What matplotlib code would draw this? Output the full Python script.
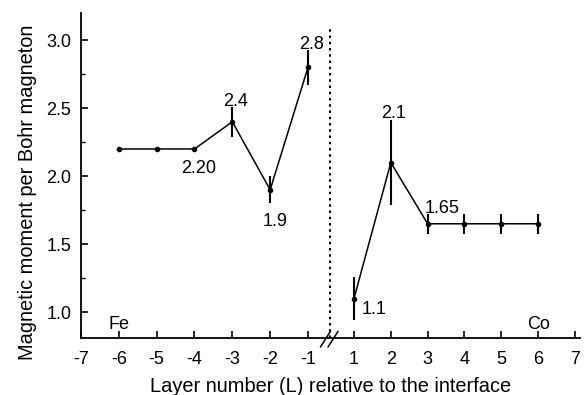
import matplotlib
matplotlib.use('Agg')
import matplotlib.pyplot as plt
from matplotlib.ticker import MultipleLocator
from matplotlib.transforms import blended_transform_factory

plt.rcParams['font.family'] = ['Liberation Sans', 'DejaVu Sans']

# ---- data ----
fe_layers = [-6, -5, -4, -3, -2, -1]
fe_moment = [2.2, 2.2, 2.2, 2.4, 1.9, 2.8]
fe_err = [0.0, 0.0, 0.0, 0.11, 0.10, 0.13]

co_layers = [1, 2, 3, 4, 5, 6]
co_moment = [1.1, 2.1, 1.65, 1.65, 1.65, 1.65]
co_err = [0.16, 0.31, 0.075, 0.075, 0.075, 0.075]

x_tick_layers = [-7, -6, -5, -4, -3, -2, -1, 1, 2, 3, 4, 5, 6, 7]
y_ticks = [1.0, 1.5, 2.0, 2.5, 3.0]

# (layer, y, text, dx in layer units, ha)
labels = [
    (-4, 2.06, "2.20", 0.12, 'center'),
    (-3, 2.55, "2.4", 0.08, 'center'),
    (-2, 1.67, "1.9", 0.12, 'center'),
    (-1, 2.97, "2.8", 0.10, 'center'),
    (2, 2.46, "2.1", 0.08, 'center'),
    (3, 1.765, "1.65", -0.08, 'left'),
    (1, 1.02, "1.1", 0.2, 'left'),
    (-6, 0.91, "Fe", 0.0, 'center'),
    (6, 0.91, "Co", 0.0, 'center'),
]

# broken axis: positive layers mapped with a gap after -1
POS_OFFSET = 0.216
POS_STEP = 0.9736


def xpos(L):
    return L if L < 0 else POS_OFFSET + (L - 1) * POS_STEP


BREAK_X = -0.418

fig = plt.figure(figsize=(5.85, 3.95), dpi=100)
ax = fig.add_axes([81 / 585, 57 / 395, 499 / 585, 325 / 395])

ax.set_xlim(-7, 6.19)
ax.set_ylim(0.81, 3.2)

fs = 13
lw = 1.1

ax.plot([xpos(v) for v in fe_layers], fe_moment, color='black', lw=lw,
        marker='o', ms=3, zorder=3)
ax.plot([xpos(v) for v in co_layers], co_moment, color='black', lw=lw,
        marker='o', ms=3, zorder=3)
ax.errorbar([xpos(v) for v in fe_layers], fe_moment, yerr=fe_err, fmt='none',
            ecolor='black', elinewidth=1.5, capsize=0)
ax.errorbar([xpos(v) for v in co_layers], co_moment, yerr=co_err, fmt='none',
            ecolor='black', elinewidth=1.5, capsize=0)

for L, y, t, dx, ha in labels:
    ax.text(xpos(L) + dx, y, t, ha=ha, va='center', fontsize=fs, color='black')

# interface dotted line
ax.plot([BREAK_X, BREAK_X], [0.81, 3.1], color='black', lw=1.5,
        linestyle=(0, (1.2, 1.8)), zorder=2)

# axis break marks
trans = blended_transform_factory(ax.transData, ax.transAxes)
for dxb in (-0.12, 0.08):
    ax.plot([BREAK_X + dxb - 0.13, BREAK_X + dxb + 0.13], [-0.027, 0.02],
            transform=trans, color='black', lw=1.1, clip_on=False)

ax.spines['top'].set_visible(False)
ax.spines['right'].set_visible(False)
ax.spines['left'].set_linewidth(1.3)
ax.spines['bottom'].set_linewidth(1.3)

ax.set_xticks([xpos(v) for v in x_tick_layers])
ax.set_xticklabels([str(v) for v in x_tick_layers])
ax.set_yticks(y_ticks)
ax.set_yticklabels([f"{v:.1f}" for v in y_ticks])
ax.yaxis.set_minor_locator(MultipleLocator(0.25))

ax.tick_params(axis='x', which='major', direction='in', length=5, width=1.2,
               labelsize=fs, pad=9)
ax.tick_params(axis='y', which='major', direction='in', length=5, width=1.2,
               labelsize=fs, pad=7)
ax.tick_params(axis='y', which='minor', direction='in', length=3, width=1.0)

ax.set_xlabel("Layer number (L) relative to the interface", fontsize=14.4,
              labelpad=7)
ax.set_ylabel("Magnetic moment per Bohr magneton", fontsize=14.4, labelpad=7)
ax.yaxis.label.set_y(0.449)

fig.savefig('out.png', dpi=100)
